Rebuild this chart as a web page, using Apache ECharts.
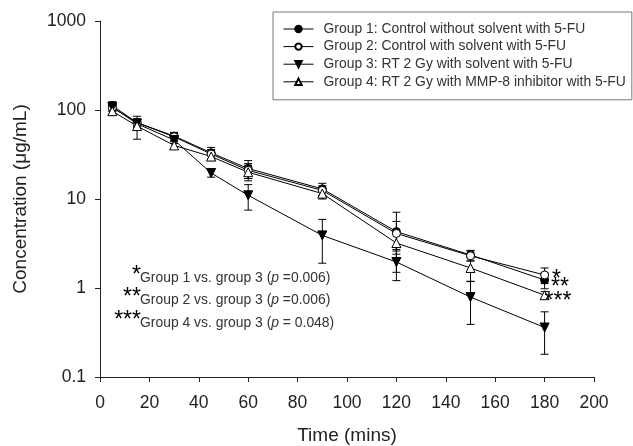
<!DOCTYPE html>
<html>
<head>
<meta charset="utf-8">
<script src="https://cdn.jsdelivr.net/npm/echarts@6/dist/echarts.min.js"></script>
<style>
  html, body { margin: 0; padding: 0; background: #fff; }
  #chart { width: 633px; height: 446px; }
</style>
</head>
<body>
<div id="chart"></div>
<script>
// sampling times (mins)
const times = [5, 15, 30, 45, 60, 90, 120, 150, 180];

const groupNames = [
    'Group 1: Control without solvent with 5-FU',
    'Group 2: Control with solvent with 5-FU',
    'Group 3: RT 2 Gy with solvent with 5-FU',
    'Group 4: RT 2 Gy with MMP-8 inhibitor with 5-FU'
];

// mean concentration (ug/mL)
const group1 = [112, 72, 51, 33, 22, 13, 4.3, 2.35, 1.23];
const group2 = [106, 72, 50, 32, 21, 12.5, 4.1, 2.3, 1.4];
const group3 = [108, 70, 46, 19.6, 11, 3.9, 1.96, 0.79, 0.36];
const group4 = [97, 66, 40, 30, 20, 11.5, 3.2, 1.68, 0.83];

// error bar half widths (SD)
const group1Sd = [12, 8, 5, 5, 5, 2, 2.8, 0.3, 0.25];
const group2Sd = [10, 6, 5, 4, 4, 1.5, 1.5, 0.3, 0.28];
const group3Sd = [8, 6, 4, 2, 3.5, 2, 0.75, 0.4, 0.18];
const group4Sd = [10, 19, 4, 3, 4, 1.5, 0.8, 0.5, 0.08];

// star marks next to the last point of each group
const endMarks = ['*', '**', '', '***'];

const yTicks = [0.1, 1, 10, 100, 1000];

const notes = [
    { stars: '*', text: 'Group 1 vs. group 3 (', p: '=0.006)' },
    { stars: '**', text: 'Group 2 vs. group 3 (', p: '=0.006)' },
    { stars: '***', text: 'Group 4 vs. group 3 (', p: '= 0.048)' }
];

const means = [group1, group2, group3, group4];
const sds = [group1Sd, group2Sd, group3Sd, group4Sd];

const symbols = [
    { symbol: 'circle', size: 8, fill: '#000', rotate: 0 },
    { symbol: 'circle', size: 8, fill: '#fff', rotate: 0 },
    { symbol: 'triangle', size: 9, fill: '#000', rotate: 180 },
    { symbol: 'triangle', size: 9, fill: '#fff', rotate: 0 }
];

const endOffsets = [[-2, 0], [-3, 13], [0, 0], [-10, 6]];

function renderErrorBar(params, api) {
    const x = api.value(0);
    const lo = api.coord([x, api.value(1)]);
    const hi = api.coord([x, api.value(2)]);
    const w = 4;
    const st = { stroke: '#000', lineWidth: 1 };
    return {
        type: 'group',
        children: [
            { type: 'line', shape: { x1: lo[0], y1: lo[1], x2: hi[0], y2: hi[1] }, style: st },
            { type: 'line', shape: { x1: lo[0] - w, y1: lo[1], x2: lo[0] + w, y2: lo[1] }, style: st },
            { type: 'line', shape: { x1: hi[0] - w, y1: hi[1], x2: hi[0] + w, y2: hi[1] }, style: st }
        ]
    };
}

const series = [];

means.forEach((vals, g) => {
    const errData = times.map((t, i) => {
        const low = Math.max(vals[i] - sds[g][i], 0.12);
        return [t, low, vals[i] + sds[g][i]];
    });
    series.push({
        name: 'err' + g,
        type: 'custom',
        renderItem: renderErrorBar,
        data: errData,
        encode: { x: 0, y: [1, 2] },
        z: 1,
        silent: true
    });
});

means.forEach((vals, g) => {
    const s = symbols[g];
    const data = times.map((t, i) => {
        const item = { value: [t, vals[i]] };
        if (i === times.length - 1 && endMarks[g]) {
            item.label = {
                show: true,
                formatter: endMarks[g],
                position: 'right',
                offset: endOffsets[g],
                fontSize: 23,
                color: '#000',
                fontFamily: 'Liberation Sans'
            };
        }
        return item;
    });
    series.push({
        name: groupNames[g],
        type: 'line',
        data: data,
        symbol: s.symbol,
        symbolSize: s.size,
        symbolRotate: s.rotate,
        showAllSymbol: true,
        lineStyle: { color: '#000', width: 1 },
        itemStyle: { color: s.fill, borderColor: '#000', borderWidth: 1 },
        z: 3
    });
});

const graphics = [];
notes.forEach((n, i) => {
    const top = 271 + i * 22.5;
    graphics.push({
        type: 'text',
        x: 141, y: top - 7,
        style: {
            text: n.stars,
            align: 'right',
            fontSize: 23,
            fill: '#000',
            fontFamily: 'Liberation Sans'
        }
    });
    graphics.push({
        type: 'text',
        x: 140, y: top,
        style: {
            text: '{t|' + n.text + '}{i|p}{t| ' + n.p + '}',
            rich: {
                t: { fontSize: 13.9, fill: '#333', fontFamily: 'Liberation Sans' },
                i: { fontSize: 13.9, fill: '#333', fontStyle: 'italic', fontFamily: 'Liberation Sans' }
            }
        }
    });
});

const chart = echarts.init(document.getElementById('chart'));

chart.setOption({
    animation: false,
    backgroundColor: '#fff',
    textStyle: { fontFamily: 'Liberation Sans' },
    grid: { left: 100, top: 21, right: 39, bottom: 69, containLabel: false, outerBoundsMode: 'none' },
    legend: {
        data: groupNames,
        orient: 'vertical',
        left: 273,
        top: 12,
        padding: [10, 6, 11, 10],
        itemGap: 3.6,
        itemWidth: 30,
        itemHeight: 8,
        borderColor: '#777',
        borderWidth: 1,
        borderRadius: 0,
        lineStyle: { width: 1 },
        textStyle: { fontSize: 13.9, lineHeight: 12, color: '#333', padding: [0, 0, 0, 5] }
    },
    xAxis: {
        type: 'value',
        min: 0,
        max: 200,
        interval: 20,
        name: 'Time (mins)',
        nameLocation: 'middle',
        nameGap: 49,
        nameTextStyle: { fontSize: 19, color: '#222' },
        axisLine: { lineStyle: { color: '#222', width: 1 } },
        axisTick: { show: true, inside: false, length: 5, lineStyle: { color: '#222' } },
        axisLabel: { fontSize: 17.5, color: '#222', margin: 17 },
        splitLine: { show: false }
    },
    yAxis: {
        type: 'log',
        logBase: 10,
        min: yTicks[0],
        max: yTicks[yTicks.length - 1],
        name: 'Concentration (\u03bcg/mL)',
        nameLocation: 'middle',
        nameGap: 70,
        nameTextStyle: { fontSize: 19, color: '#222' },
        axisLine: { show: true, lineStyle: { color: '#222', width: 1 } },
        axisTick: { show: true, inside: false, length: 5, lineStyle: { color: '#222' } },
        axisLabel: {
            fontSize: 17.5, color: '#222', margin: 14,
            formatter: v => String(yTicks.find(t => Math.abs(t - v) / t < 1e-6) ?? v)
        },
        splitLine: { show: false },
        minorTick: { show: false }
    },
    graphic: graphics,
    series: series
});
</script>
</body>
</html>
